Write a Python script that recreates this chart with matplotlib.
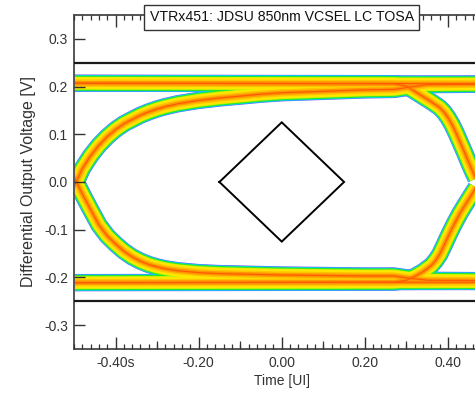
import matplotlib.pyplot as plt
from matplotlib.ticker import MultipleLocator

plt.rcParams['font.family'] = ['Liberation Sans', 'DejaVu Sans']

title = "VTRx451: JDSU 850nm VCSEL LC TOSA"
x_label = "Time [UI]"
y_label = "Differential Output Voltage [V]"

x_ticks = [-0.4, -0.2, 0.0, 0.2, 0.4]
x_tick_labels = ["-0.40s", "-0.20", "0.00", "0.20", "0.40"]
x_mid_ticks = [-0.3, -0.1, 0.1, 0.3]
y_ticks = [-0.3, -0.2, -0.1, 0.0, 0.1, 0.2, 0.3]

# mask limits and the eye-opening diamond
mask_levels = [0.25, -0.25]
diamond_t = [-0.15, 0.0, 0.15, 0.0, -0.15]
diamond_v = [0.0, 0.125, 0.0, -0.125, 0.0]

# centre lines of the trace bands (time in UI, voltage in V)
high_t = [-0.50, 0.50]
high_v = [0.207, 0.206]

low_t = [-0.50, 0.50]
low_v = [-0.211, -0.210]

rise_left_t = [-0.50, -0.48, -0.46, -0.44, -0.42, -0.40, -0.38, -0.36, -0.34, -0.32,
               -0.30, -0.28, -0.25, -0.20, -0.15, -0.10, -0.05, 0.00, 0.10, 0.20,
               0.27, 0.31, 0.35, 0.50]
rise_left_v = [-0.010, 0.028, 0.055, 0.077, 0.095, 0.110, 0.122, 0.131, 0.140, 0.147,
               0.153, 0.158, 0.164, 0.171, 0.176, 0.180, 0.184, 0.187, 0.190, 0.193,
               0.194, 0.199, 0.204, 0.205]

fall_left_t = [-0.50, -0.48, -0.46, -0.44, -0.42, -0.40, -0.38, -0.36, -0.34, -0.32,
               -0.30, -0.28, -0.25, -0.20, -0.15, -0.10, -0.05, 0.00, 0.10, 0.20,
               0.27, 0.31, 0.35, 0.50]
fall_left_v = [0.010, -0.025, -0.058, -0.090, -0.113, -0.130, -0.145, -0.157, -0.166, -0.173,
               -0.178, -0.182, -0.186, -0.190, -0.192, -0.193, -0.194, -0.195, -0.196, -0.197,
               -0.197, -0.202, -0.206, -0.207]

fall_right_t = [-0.50, 0.27, 0.30, 0.32, 0.34, 0.36, 0.38, 0.39, 0.40, 0.41, 0.42, 0.43,
                0.44, 0.45, 0.46, 0.48, 0.50]
fall_right_v = [0.207, 0.206, 0.201, 0.190, 0.179, 0.168, 0.156, 0.147, 0.135, 0.120, 0.102, 0.082,
                0.062, 0.041, 0.021, -0.015, -0.050]

rise_right_t = [-0.50, 0.27, 0.30, 0.32, 0.34, 0.36, 0.37, 0.38, 0.39, 0.40, 0.41, 0.42,
                0.43, 0.44, 0.45, 0.46, 0.48, 0.50]
rise_right_v = [-0.211, -0.210, -0.206, -0.198, -0.188, -0.175, -0.165, -0.152, -0.134, -0.115,
                -0.097, -0.080, -0.064, -0.050, -0.036, -0.022, 0.005, 0.040]

traces = [
    (high_t, high_v, 12.0),
    (low_t, low_v, 11.5),
    (rise_left_t, rise_left_v, 12.5),
    (fall_left_t, fall_left_v, 12.5),
    (fall_right_t, fall_right_v, 12.5),
    (rise_right_t, rise_right_v, 12.5),
]

# hit-density colours, outside edge of a band first
band_colors = ['#7a5cff', '#00d0ff', '#2ce62c', '#c8f500', '#ffe600', '#ffc400', '#ff9400', '#ff5a00']
band_fracs = [1.0, 0.95, 0.87, 0.74, 0.65, 0.42, 0.24, 0.07]

fig = plt.figure(figsize=(4.75, 3.93), dpi=100)
ax = fig.add_axes([0.1558, 0.112, 0.8747, 0.8499])

for color, frac in zip(band_colors, band_fracs):
    for t, v, width in traces:
        ax.plot(t, v, color=color, lw=width * frac, solid_capstyle='butt',
                solid_joinstyle='round', zorder=2)

for level in mask_levels:
    ax.axhline(level, color='#1a1a1a', lw=1.6, zorder=3)
ax.plot(diamond_t, diamond_v, color='black', lw=1.4, solid_joinstyle='miter', zorder=3)

ax.set_xlim(-0.5, 0.5)
ax.set_ylim(-0.35, 0.35)
ax.set_axisbelow(False)

ax.set_xticks(x_ticks, x_tick_labels)
ax.xaxis.set_minor_locator(MultipleLocator(0.02))
ax.set_yticks(y_ticks, [f"{v:.1f}" for v in y_ticks])

ax.tick_params(axis='x', which='major', direction='in', length=8.5, width=1,
               top=True, pad=5, labelsize=10, colors='#333333')
ax.tick_params(axis='x', which='minor', direction='in', length=3.6, width=0.9, top=True,
               colors='#333333')
ax.tick_params(axis='y', which='major', direction='in', length=8, width=1,
               pad=4.3, labelsize=10, colors='#333333')

# medium ticks on the odd tenths
for side in ['bottom', 'top']:
    sec = ax.secondary_xaxis(side)
    sec.set_xticks(x_mid_ticks, [''] * len(x_mid_ticks))
    sec.tick_params(direction='in', length=5.8, width=0.9, colors='#333333')
    for s in sec.spines.values():
        s.set_visible(False)

for s in ax.spines.values():
    s.set_color('#555555')
    s.set_linewidth(1.4)

ax.set_xlabel(x_label, fontsize=10, labelpad=3, color='#333333')
ax.set_ylabel(y_label, fontsize=11.5, labelpad=6, color='#333333')

ax.text(0.0, 0.345, title, ha='center', va='center', fontsize=10.2, color='#111111',
        clip_on=False, zorder=5,
        bbox=dict(boxstyle='square,pad=0.38', fc='white', ec='#333333', lw=1))

fig.savefig('out.png', dpi=100)
